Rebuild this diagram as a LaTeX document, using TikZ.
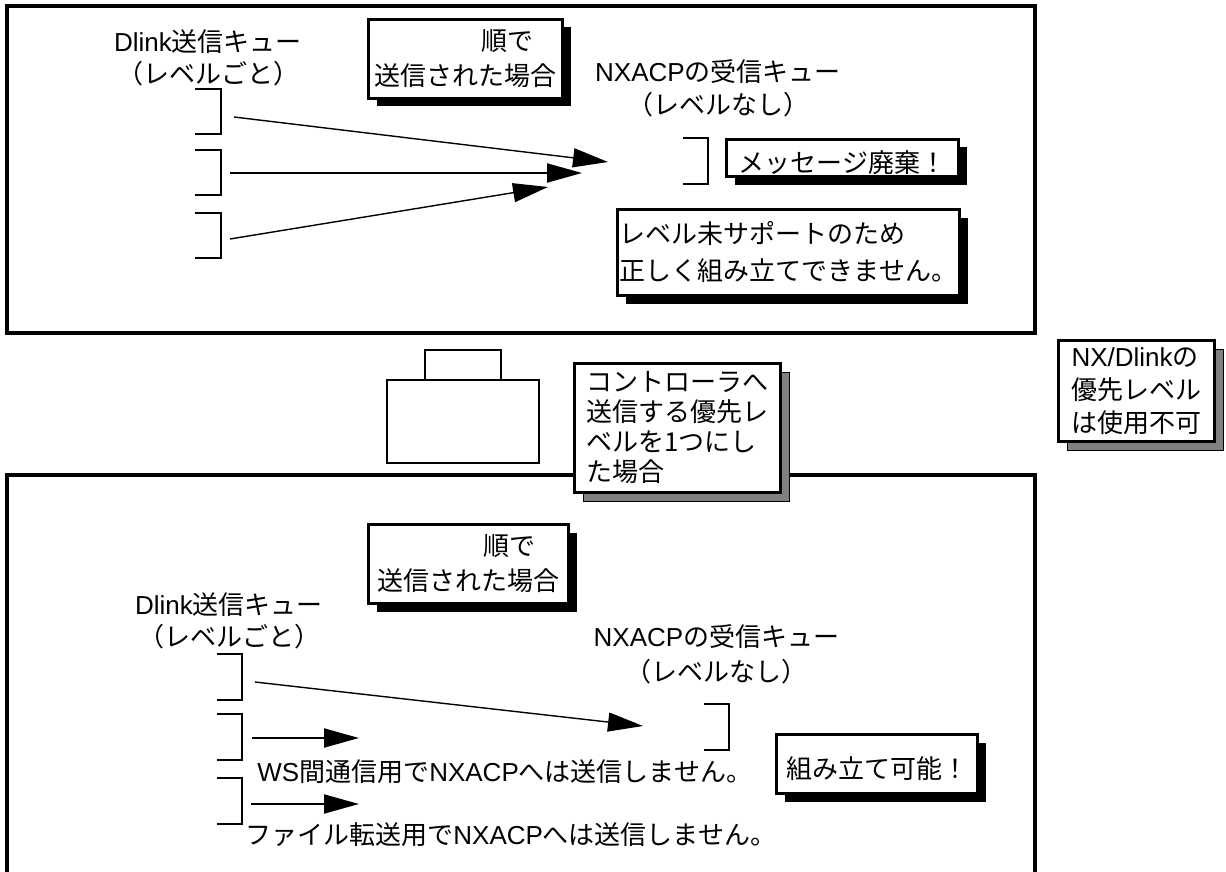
\documentclass[tikz,border=0pt]{standalone}
\usepackage{fontspec}
\setmainfont{Noto Sans CJK JP}
\newfontfamily\latin{Liberation Sans}
\usepackage{tikz}
\usetikzlibrary{arrows.meta,shadows}

\begin{document}
\begin{tikzpicture}[x=0.5pt, y=-0.5pt,
    frame/.style={draw=black, line width=1.6pt},
    queue/.style={draw=black, line width=0.9pt},
    case/.style={draw=black, line width=1pt},
    lbl/.style={inner sep=0pt, align=center, font={\fontsize{13pt}{16pt}\selectfont}},
    notebox/.style={rectangle, draw=black, fill=white, line width=1.5pt, inner sep=0pt,
                    font={\fontsize{13pt}{17.5pt}\selectfont},
                    execute at begin node={\rule{0pt}{15.5pt}}},
    blacknote/.style={notebox, drop shadow={opacity=1, fill=black,
                      shadow xshift=4pt, shadow yshift=-4pt}},
    greynote/.style={notebox, drop shadow={opacity=1, fill=gray, draw=black, line width=0.7pt,
                     shadow xshift=4.5pt, shadow yshift=-4.5pt}},
    flow/.style={-{Triangle[length=17.5pt, width=9.5pt]}, line width=0.7pt}
]
    \useasboundingbox (0,0) rectangle (1226,872);

    \draw[frame] (7,6) rectangle (1035,333);
    \draw[frame] (7,874) |- (1035,475) -- (1035,874);

    % upper case
    \node[lbl] (dsendA) at (208,58) {{\latin Dlink}送信キュー\\（レベルごと）};
    \node[lbl, font={\fontsize{13pt}{16.5pt}\selectfont}] (nrecvA) at (718,88.5)
        {{\latin NXACP}の受信キュー\\（レベルなし）};
    \node[blacknote, minimum width=97pt, minimum height=39.5pt, align=left] (seqA) at (465.5,59)
        {\hspace*{53.5pt}順で\\送信された場合};
    \node[blacknote, minimum width=116pt, minimum height=18.5pt] (discard) at (842.5,158)
        {メッセージ廃棄！};
    \node[blacknote, minimum width=171pt, minimum height=43pt, align=left,
          font={\fontsize{13pt}{18.5pt}\selectfont}] (noassm) at (788.5,252.5)
        {レベル未サポートのため\\正しく組み立てできません。};

    \foreach \y in {89,150,213}
        \draw[queue] (195,\y) -| (221,\y+45) -- (195,\y+45);
    \draw[queue] (683,138) -| (708,184) -- (683,184);

    \coordinate (srcA1) at (234,117);
    \coordinate (srcA2) at (230,173);
    \coordinate (srcA3) at (230,239);
    \coordinate (dstA1) at (608,162);
    \coordinate (dstA2) at (582,173);
    \coordinate (dstA3) at (548,187);
    \draw[flow] (srcA1) -- (dstA1);
    \draw[flow, line width=1pt] (srcA2) -- (dstA2);
    \draw[flow] (srcA3) -- (dstA3);

    % controller
    \draw[case] (425,380) rectangle (501,350);
    \draw[case] (387,380) rectangle (539,463);
    \node[greynote, minimum width=103pt, minimum height=64.5pt, align=left,
          font={\fontsize{13pt}{15pt}\selectfont}] (ctrl) at (677.5,428)
        {コントローラへ\\送信する優先レ\\ベルを1つにし\\た場合};
    \node[greynote, minimum width=78pt, minimum height=50.5pt, align=left,
          font={\fontsize{13pt}{16.5pt}\selectfont}] (nolevel) at (1136.5,391)
        {{\latin NX/Dlink}の\\優先レベル\\は使用不可};

    % lower case
    \node[lbl] (dsendB) at (229,621) {{\latin Dlink}送信キュー\\（レベルごと）};
    \node[lbl, font={\fontsize{13pt}{17.5pt}\selectfont}] (nrecvB) at (716.5,654.5)
        {{\latin NXACP}の受信キュー\\（レベルなし）};
    \node[blacknote, minimum width=100pt, minimum height=39.5pt, align=left] (seqB) at (468.5,564)
        {\hspace*{53pt}順で\\送信された場合};
    \node[blacknote, minimum width=100.5pt, minimum height=29.5pt] (assm) at (877,764)
        {組み立て可能！};
    \node[lbl, anchor=west] (wsnote) at (257,772)
        {{\latin WS}間通信用で{\latin NXACP}へは送信しません。};
    \node[lbl, anchor=west] (filenote) at (245,835)
        {ファイル転送用で{\latin NXACP}へは送信しません。};

    \foreach \y in {654,714,778}
        \draw[queue] (217,\y) -| (242,\y+46) -- (217,\y+46);
    \draw[queue] (704,704) -| (729,750) -- (704,750);

    \coordinate (srcB1) at (255,682);
    \coordinate (srcB2) at (252,738);
    \coordinate (srcB3) at (251,804);
    \coordinate (dstB1) at (643,726);
    \coordinate (dstB2) at (359,738);
    \coordinate (dstB3) at (359,804);
    \draw[flow] (srcB1) -- (dstB1);
    \draw[flow, line width=1pt] (srcB2) -- (dstB2);
    \draw[flow, line width=1pt] (srcB3) -- (dstB3);
\end{tikzpicture}
\end{document}
